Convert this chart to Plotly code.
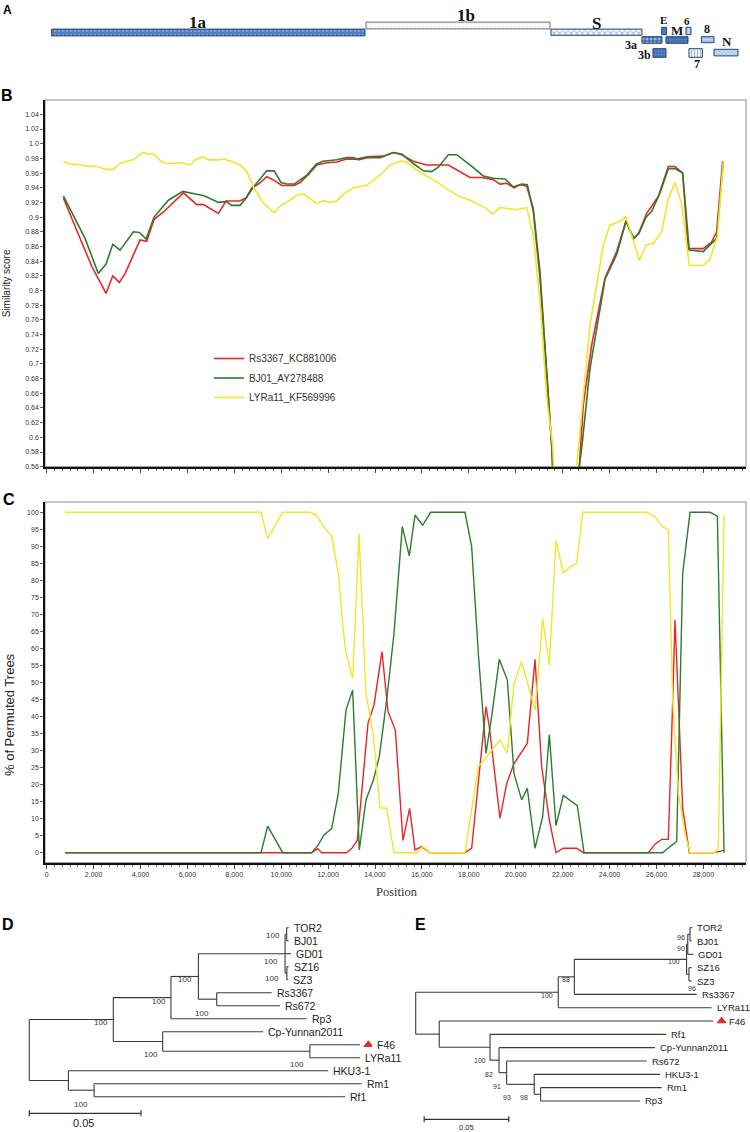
import plotly.graph_objects as go

W, H = 750, 1132

# ------------------------------------------------------------------ data
# Panel A : genome organisation (genome position, nt)
gene_names  = ["1a", "1b", "S", "3a", "3b", "E", "M", "6", "7", "8", "N"]
gene_starts = [213, 13615, 21503, 25384, 25852, 26224, 26407, 27260, 27388, 27917, 28454]
gene_ends   = [13572, 21461, 25384, 26237, 26407, 26429, 27345, 27473, 27959, 28454, 29477]

series_names = ["Rs3367_KC881006", "BJ01_AY278488", "LYRa11_KF569996"]

# Panel B : similarity plot
rs_pos_b = [711, 1920, 2531, 2816, 3100, 3342, 3982, 4266, 4579, 4977, 5830, 6086, 6399, 6683,
            7323, 7650, 8219, 8504, 8745, 9030, 9385, 9698, 10025, 10551, 10807, 11163, 11518,
            11945, 12371, 12798, 13225, 13651, 14353, 14779, 15137, 15632, 16203, 17125, 17551,
            18050, 18549, 19043, 19329, 19614, 19926, 20182, 20467, 20748, 21034, 21320, 21533,
            21800, 22390, 22880, 23239, 23806, 24305, 24702, 25013, 25227, 25585, 26080, 26506,
            26790, 27118, 27357, 27571, 27997, 28353, 28567, 28823]
rs_sim_b = [0.926, 0.833, 0.796, 0.820, 0.811, 0.823, 0.869, 0.867, 0.897, 0.907, 0.933, 0.926,
            0.917, 0.917, 0.905, 0.922, 0.922, 0.926, 0.940, 0.945, 0.955, 0.950, 0.943, 0.943,
            0.947, 0.958, 0.971, 0.974, 0.975, 0.979, 0.979, 0.982, 0.983, 0.988, 0.985, 0.976,
            0.971, 0.971, 0.963, 0.954, 0.954, 0.951, 0.945, 0.946, 0.940, 0.944, 0.942, 0.912,
            0.826, 0.689, 0.589, 0.40, 0.40, 0.644, 0.726, 0.817, 0.853, 0.895, 0.870, 0.877,
            0.905, 0.928, 0.969, 0.969, 0.960, 0.857, 0.857, 0.857, 0.866, 0.880, 0.976]

bj_pos_b = [711, 1635, 2204, 2531, 2816, 3129, 3697, 3953, 4238, 4579, 5190, 5802, 6399, 6712,
            7323, 7650, 7892, 8247, 8504, 8816, 9385, 9698, 9996, 10238, 10551, 11092, 11490,
            11775, 12371, 12798, 13083, 13296, 13651, 14220, 14779, 15137, 15632, 16061, 16416,
            16700, 17125, 17480, 18050, 18620, 19043, 19543, 19897, 20253, 20496, 20748, 21034,
            21320, 21533, 21800, 22070, 22826, 23168, 23806, 24305, 24702, 25041, 25270, 25555,
            25798, 26151, 26506, 26790, 27118, 27400, 27997, 28567, 28852]
bj_sim_b = [0.929, 0.871, 0.823, 0.836, 0.863, 0.855, 0.880, 0.879, 0.870, 0.900, 0.923, 0.935,
            0.931, 0.929, 0.920, 0.921, 0.916, 0.916, 0.926, 0.941, 0.963, 0.963, 0.947, 0.945,
            0.945, 0.957, 0.972, 0.976, 0.978, 0.981, 0.981, 0.978, 0.981, 0.981, 0.988, 0.986,
            0.973, 0.963, 0.962, 0.968, 0.985, 0.985, 0.971, 0.956, 0.953, 0.952, 0.941, 0.945,
            0.944, 0.908, 0.817, 0.680, 0.589, 0.40, 0.40, 0.589, 0.694, 0.815, 0.849, 0.894,
            0.871, 0.879, 0.900, 0.908, 0.933, 0.966, 0.966, 0.960, 0.855, 0.853, 0.871, 0.976]

ly_pos_b = [711, 995, 1280, 1635, 2133, 2531, 2844, 3129, 3413, 3697, 4096, 4337, 4551, 4906,
            5119, 5475, 5759, 6115, 6328, 6655, 6897, 7252, 7565, 7935, 8247, 8532, 8816, 9243,
            9698, 10025, 10380, 10736, 10978, 11490, 11831, 12115, 12371, 12656, 13055, 13623,
            13936, 14211, 14637, 15090, 15346, 15916, 16629, 17125, 17551, 18120, 18689, 19015,
            19329, 19642, 20040, 20467, 20748, 21034, 21320, 21575, 21850, 22120, 22667, 22880,
            23168, 23735, 24020, 24418, 24702, 24985, 25270, 25555, 25868, 26223, 26506, 26790,
            27075, 27400, 27997, 28282, 28595, 28852]
ly_sim_b = [0.976, 0.972, 0.972, 0.970, 0.969, 0.965, 0.965, 0.973, 0.976, 0.978, 0.988, 0.986,
            0.986, 0.975, 0.973, 0.973, 0.974, 0.971, 0.978, 0.982, 0.978, 0.978, 0.979, 0.975,
            0.971, 0.962, 0.941, 0.919, 0.906, 0.917, 0.923, 0.931, 0.931, 0.919, 0.922, 0.920,
            0.922, 0.931, 0.940, 0.943, 0.950, 0.957, 0.971, 0.976, 0.975, 0.961, 0.948, 0.937,
            0.929, 0.922, 0.913, 0.904, 0.913, 0.912, 0.910, 0.913, 0.876, 0.785, 0.654, 0.589,
            0.40, 0.40, 0.589, 0.662, 0.753, 0.862, 0.889, 0.894, 0.900, 0.871, 0.841, 0.862,
            0.864, 0.880, 0.925, 0.947, 0.918, 0.834, 0.834, 0.843, 0.873, 0.976]

# Panel C : bootscan (% of permuted trees)
rs_pos_c = [780, 11300, 11555, 11726, 12790, 13003, 13245, 13700, 13956, 14297, 14553, 14865,
            15192, 15476, 15704, 15988, 16344, 17836, 18121, 18732, 18873, 19329, 19614, 19926,
            20494, 20822, 21106, 21433, 21717, 22030, 22599, 22883, 25654, 25939, 26223, 26508,
            26650, 26792, 26935, 27120, 27404, 28428, 28883]
rs_pct_c = [0, 0, 1.2, 0, 0, 1.2, 3.6, 38.0, 43.4, 59.1, 41.5, 36.1, 3.6, 13.0, 0.8, 1.8, 0, 0,
            1.3, 42.9, 37.0, 10.1, 20.3, 26.2, 32.1, 56.8, 25.3, 9.6, 0, 1.3, 1.3, 0, 0, 2.5,
            3.9, 3.9, 34.6, 68.4, 44.4, 13.0, 0, 0, 0.7]

bj_pos_c = [780, 9138, 9423, 10063, 11300, 11581, 11825, 12152, 12434, 12762, 13046, 13330,
            13615, 13927, 14183, 14497, 14809, 15164, 15462, 15704, 16031, 16372, 17836, 18121,
            18405, 18732, 18973, 19300, 19642, 19926, 20253, 20494, 20822, 21149, 21433, 21717,
            22030, 22343, 22627, 22912, 26266, 26579, 26864, 27120, 27433, 28286, 28598, 28883]
bj_pct_c = [0, 0, 7.8, 0, 0, 2.3, 5.2, 7.1, 17.4, 41.9, 47.8, 0.8, 15.5, 21.3, 28.2, 44.8, 64.4,
            95.8, 87.2, 99.2, 96.2, 100, 100, 89.9, 58.6, 29.2, 40.0, 56.8, 50.7, 23.3, 15.5,
            18.9, 1.3, 10.6, 34.6, 8.0, 16.8, 15.3, 13.8, 0, 0, 1.8, 3.3, 82.1, 100, 100, 98.9, 0]

ly_pos_c = [780, 9138, 9423, 10063, 11227, 11513, 11726, 11910, 12152, 12434, 12647, 12762,
            13048, 13317, 13615, 13927, 14212, 14497, 14809, 15775, 16031, 16344, 17836, 18405,
            18760, 19329, 19642, 19926, 20253, 20608, 20822, 21149, 21433, 21717, 22030, 22314,
            22599, 22855, 25583, 25939, 26223, 26508, 26693, 26935, 27220, 27433, 28499, 28641,
            28883]
ly_pct_c = [100, 100, 92.3, 100, 100, 99.1, 96.7, 94.8, 93.1, 82.1, 65.4, 58.6, 51.2, 93.8, 46.8,
            34.6, 13.2, 13.0, 0, 0, 1.8, 0, 0, 25.3, 28.2, 33.1, 29.2, 49.7, 56.1, 46.8, 41.9,
            68.8, 55.1, 91.8, 82.1, 84.0, 85.0, 100, 100, 98.7, 96.0, 94.8, 44.8, 17.4, 5.6, 0,
            0, 1.8, 99.2]

sim_tick_values = [0.56, 0.58, 0.60, 0.62, 0.64, 0.66, 0.68, 0.70, 0.72, 0.74, 0.76, 0.78, 0.80,
                   0.82, 0.84, 0.86, 0.88, 0.90, 0.92, 0.94, 0.96, 0.98, 1.00, 1.02, 1.04]
pct_tick_values = [0, 5, 10, 15, 20, 25, 30, 35, 40, 45, 50, 55, 60, 65, 70, 75, 80, 85, 90, 95, 100]

# Panel D : whole-genome tree (node, parent, cumulative branch length)
d_nodes   = ["root", "n1", "n2", "n3", "sars", "tb", "TOR2", "BJ01", "GD01", "sz", "SZ16", "SZ3",
             "rs", "Rs3367", "Rs672", "Rp3", "cp", "Cp-Yunnan2011", "fl", "F46", "LYRa11",
             "n4", "HKU3-1", "rr", "Rm1", "Rf1"]
d_parents = [None, "root", "n1", "n2", "n3", "sars", "tb", "tb", "sars", "sars", "sz", "sz",
             "n3", "rs", "rs", "n2", "n1", "cp", "cp", "fl", "fl",
             "root", "n4", "n4", "rr", "rr"]
d_depths  = [0.0, 0.0376, 0.0634, 0.0757, 0.1145, 0.1152, 0.1161, 0.1161, 0.1172, 0.1153, 0.1161,
             0.1159, 0.0839, 0.1085, 0.1122, 0.1242, 0.0597, 0.1047, 0.1256, 0.1480, 0.1480,
             0.0175, 0.1338, 0.0290, 0.1488, 0.1413]
d_leaves  = ["TOR2", "BJ01", "GD01", "SZ16", "SZ3", "Rs3367", "Rs672", "Rp3", "Cp-Yunnan2011",
             "F46", "LYRa11", "HKU3-1", "Rm1", "Rf1"]
d_boot_nodes  = ["tb", "sars", "sz", "n1", "n2", "n3", "rs", "cp", "fl", "rr"]
d_boot_values = [100, 100, 100, 100, 100, 100, 100, 100, 100, 100]

# Panel E : S-gene tree
e_nodes   = ["root", "e100", "e88", "sars", "up", "tb", "TOR2", "BJ01", "GD01", "sz", "SZ16",
             "SZ3", "Rs3367", "LYRa11", "n193", "F46", "n345", "Rf1", "n372", "Cp-Yunnan2011",
             "n395", "Rs672", "n478", "HKU3-1", "n497", "Rm1", "Rp3"]
e_parents = [None, "root", "e100", "e88", "sars", "up", "tb", "tb", "up", "sars", "sz",
             "sz", "e88", "e100", "root", "n193", "n193", "n345", "n345", "n372",
             "n372", "n395", "n395", "n478", "n478", "n497", "n497"]
e_depths  = [0.0, 0.0842, 0.0937, 0.1600, 0.1607, 0.1620, 0.1634, 0.1630, 0.1640, 0.1614, 0.1630,
             0.1630, 0.1660, 0.1748, 0.0139, 0.1758, 0.0439, 0.1480, 0.0492, 0.1413,
             0.0537, 0.1364, 0.0700, 0.1443, 0.0738, 0.1453, 0.1325]
e_leaves  = ["TOR2", "BJ01", "GD01", "SZ16", "SZ3", "Rs3367", "LYRa11", "F46", "Rf1",
             "Cp-Yunnan2011", "Rs672", "HKU3-1", "Rm1", "Rp3"]
e_boot_nodes  = ["tb", "up", "sars", "sz", "e88", "e100", "n345", "n372", "n395", "n478", "n497"]
e_boot_values = [96, 90, 100, 96, 88, 100, 100, 82, 91, 93, 98]

marked_leaf = "F46"
scale_bar_length = 0.05

assert len(rs_pos_b) == len(rs_sim_b) and len(bj_pos_b) == len(bj_sim_b) and len(ly_pos_b) == len(ly_sim_b)
assert len(rs_pos_c) == len(rs_pct_c) and len(bj_pos_c) == len(bj_pct_c) and len(ly_pos_c) == len(ly_pct_c)
assert len(d_nodes) == len(d_parents) == len(d_depths)
assert len(e_nodes) == len(e_parents) == len(e_depths)

# ------------------------------------------------------------------ styles / layout helpers
COLORS = ["#e8262a", "#2e7b30", "#f2e52a"]
SANS = "Liberation Sans, Arial, sans-serif"
SERIF = "Liberation Serif, Times New Roman, serif"


def px(x):
    return x / W


def py(y):
    return 1 - y / H


X_DOM = [px(45), px(746)]
POS_RANGE = [-72, 29819]

fig = go.Figure()
annotations = []
shapes = []

# ------------------------------------------------------------------ Panel A
# track centre / bar thickness in pixels of the map strip, label offsets in px
gene_style = {
    "1a": dict(y=32.5, h=6.8, bg="#4b7dc2", fg="#a9c6ec", shape=".", size=4, sol=0.35, line="#23456f", dx=-10, dy=-10, fs=17),
    "1b": dict(y=25.5, h=6.8, bg="#ffffff", fg="#c6c6c6", shape="+", size=4, sol=0.25, line="#6f6f6f", dx=8, dy=-10.5, fs=17),
    "S":  dict(y=32.2, h=6.2, bg="#ffffff", fg="#4b7dc2", shape="x", size=4, sol=0.5, line="#23456f", dx=0, dy=-9, fs=17),
    "3a": dict(y=40.0, h=6.6, bg="#3d6db3", fg="#ffffff", shape=".", size=4, sol=0.45, line="#23456f", dx=-21, dy=4.5, fs=12),
    "3b": dict(y=53.0, h=8.6, bg="#3f6fb5", fg="#86a8da", shape=".", size=3, sol=0.3, line="#23456f", dx=-14.5, dy=2, fs=12),
    "E":  dict(y=31.0, h=7.4, bg="#4b7dc2", fg="#4b7dc2", shape="", size=3, sol=0.3, line="#23456f", dx=-1, dy=-11.5, fs=11),
    "M":  dict(y=40.0, h=6.6, bg="#3d6db3", fg="#86a8da", shape=".", size=3, sol=0.3, line="#23456f", dx=0, dy=-9.5, fs=13),
    "6":  dict(y=31.0, h=7.4, bg="#a9c5ea", fg="#ffffff", shape="|", size=3, sol=0.3, line="#23456f", dx=-1, dy=-10.5, fs=11),
    "7":  dict(y=53.0, h=8.6, bg="#ffffff", fg="#4b7dc2", shape="|", size=3, sol=0.45, line="#23456f", dx=1, dy=11.4, fs=12),
    "8":  dict(y=39.7, h=6.0, bg="#a9c3e4", fg="#e2ebf7", shape="-", size=3, sol=0.3, line="#23456f", dx=-1, dy=-11, fs=12),
    "N":  dict(y=52.6, h=6.6, bg="#c9dbf1", fg="#4b7dc2", shape="x", size=3, sol=0.3, line="#23456f", dx=1, dy=-11, fs=13),
}
for name, s0, e0 in zip(gene_names, gene_starts, gene_ends):
    st = gene_style[name]
    fig.add_trace(go.Bar(
        x=[e0 - s0], base=[s0], y=[st["y"]], width=[st["h"]], orientation="h",
        marker=dict(color=st["bg"], line=dict(color=st["line"], width=1),
                    pattern=dict(shape=st["shape"], bgcolor=st["bg"], fgcolor=st["fg"],
                                 size=st["size"], solidity=st["sol"])),
        xaxis="x", yaxis="y", showlegend=False, hoverinfo="skip"))
    annotations.append(dict(
        x=(s0 + e0) / 2, y=st["y"], xref="x", yref="y", text=name, showarrow=False,
        xanchor="center", yanchor="middle", xshift=st["dx"], yshift=-st["dy"],
        font=dict(family=SERIF, size=st["fs"], color="#111", weight="bold")))

# ------------------------------------------------------------------ Panel B
for nm, xs, ys, col in zip(series_names, [rs_pos_b, bj_pos_b, ly_pos_b],
                            [rs_sim_b, bj_sim_b, ly_sim_b], COLORS):
    fig.add_trace(go.Scatter(x=xs, y=ys, mode="lines", name=nm, legendgroup=nm,
                             line=dict(color=col, width=1.6), xaxis="x2", yaxis="y2"))

# ------------------------------------------------------------------ Panel C
for nm, xs, ys, col in zip(series_names, [rs_pos_c, bj_pos_c, ly_pos_c],
                            [rs_pct_c, bj_pct_c, ly_pct_c], COLORS):
    fig.add_trace(go.Scatter(x=xs, y=ys, mode="lines", name=nm, legendgroup=nm, showlegend=False,
                             line=dict(color=col, width=1.4), xaxis="x3", yaxis="y3"))


def sim_label(v):
    s = "%.2f" % v
    if s.endswith("0"):
        s = s[:-1]
    return s


# ------------------------------------------------------------------ Trees
def build_tree(nodes, parents, depths, leaves):
    depth = dict(zip(nodes, depths))
    children = {n: [] for n in nodes}
    root = None
    for n, p in zip(nodes, parents):
        if p is None:
            root = n
        else:
            children[p].append(n)
    ypos = {}

    def gety(n):
        if not children[n]:
            ypos[n] = leaves.index(n)
        else:
            cy = [gety(c) for c in children[n]]
            ypos[n] = (min(cy) + max(cy)) / 2
        return ypos[n]

    gety(root)
    xs, ys = [], []
    for n, p in zip(nodes, parents):
        if p is not None:
            xs += [depth[p], depth[n], None]
            ys += [ypos[n], ypos[n], None]
        if children[n]:
            cy = [ypos[c] for c in children[n]]
            xs += [depth[n], depth[n], None]
            ys += [min(cy), max(cy), None]
    return depth, children, ypos, xs, ys


tree_cfg = {
    "D": dict(data=(d_nodes, d_parents, d_depths, d_leaves), boots=(d_boot_nodes, d_boot_values),
              xa="x4", ya="y4", ppu=2234.0, root_px=29.3, x_dom=(10, 372), row0=927.7, rowh=13.0,
              leaf_fs=10.5, boot_fs=8, bar_start=0.0, bar_row_px=1113.3, bar_txt_px=1123.3,
              bar_fs=11, bar_txt_x=0.0242,
              # per-bootstrap placement: (reference, xanchor, dx px, dy px down)
              place={"tb": ("node", "right", -5, 1), "sars": ("node", "right", -5, 8),
                     "sz": ("node", "right", -6, 5), "n1": ("node", "right", -3, 3),
                     "n2": ("node", "right", -3, 3.5), "n3": ("node", "right", -4, 3.5),
                     "rs": ("low", "right", -6, 7.5), "cp": ("low", "right", -3, 3.5),
                     "fl": ("low", "right", -4, 6.5), "rr": ("low", "right", -4, 7.5)}),
    "E": dict(data=(e_nodes, e_parents, e_depths, e_leaves), boots=(e_boot_nodes, e_boot_values),
              xa="x5", ya="y5", ppu=1693.0, root_px=415.7, x_dom=(380, 745), row0=927.7, rowh=13.33,
              leaf_fs=9.5, boot_fs=7, bar_start=0.005, bar_row_px=1119.3, bar_txt_px=1127.0,
              bar_fs=7.5, bar_txt_x=0.0301,
              place={"tb": ("node", "right", -3, 3), "up": ("node", "right", -1, 4.5),
                     "sars": ("node", "right", -5, 2.5), "sz": ("node", "center", 3, 14.5),
                     "e88": ("node", "right", -2.5, 3), "e100": ("node", "right", -3, 3.5),
                     "n345": ("low", "right", -2.5, 0.5), "n372": ("low", "right", -4, 1.5),
                     "n395": ("low", "right", -3.5, 2.5), "n478": ("low", "right", -21, 3.5),
                     "n497": ("node", "right", -10.5, 3.5)}),
}

layout_axes = {}
for key, cfg in tree_cfg.items():
    nodes, parents, depths, leaves = cfg["data"]
    depth, children, ypos, xs, ys = build_tree(nodes, parents, depths, leaves)
    ppu, rowh = cfg["ppu"], cfg["rowh"]
    xa, ya = cfg["xa"], cfg["ya"]
    fig.add_trace(go.Scatter(x=xs, y=ys, mode="lines", line=dict(color="#3a3a3a", width=1.1),
                             xaxis=xa, yaxis=ya, showlegend=False, hoverinfo="skip"))
    # leaf labels
    for lf in leaves:
        shift = 3
        if lf == marked_leaf:
            shift = 15 if key == "D" else 14
            fig.add_trace(go.Scatter(x=[depth[lf] + 8.3 / ppu], y=[ypos[lf]], mode="markers",
                                     marker=dict(symbol="triangle-up", size=9, color="#e32b26"),
                                     xaxis=xa, yaxis=ya, showlegend=False, hoverinfo="skip"))
        annotations.append(dict(x=depth[lf], y=ypos[lf], xref=xa, yref=ya, text=lf,
                                showarrow=False, xanchor="left", yanchor="middle", xshift=shift,
                                font=dict(family=SANS, size=cfg["leaf_fs"], color="#222")))
    # bootstrap values
    for bn, bv in zip(*cfg["boots"]):
        ref, xanchor, dx, dy = cfg["place"][bn]
        yy = ypos[bn] if ref == "node" else max(ypos[c] for c in children[bn])
        annotations.append(dict(x=depth[bn], y=yy, xref=xa, yref=ya, text=str(bv),
                                showarrow=False, xanchor=xanchor, yanchor="middle",
                                xshift=dx, yshift=-dy,
                                font=dict(family=SANS, size=cfg["boot_fs"], color="#333")))
    # scale bar
    bar_row = (cfg["bar_row_px"] - cfg["row0"]) / rowh
    tick = 3.0 / rowh
    b0 = cfg["bar_start"]
    b1 = b0 + scale_bar_length
    fig.add_trace(go.Scatter(x=[b0, b1, None, b0, b0, None, b1, b1],
                             y=[bar_row, bar_row, None, bar_row - tick, bar_row + tick, None,
                                bar_row - tick, bar_row + tick],
                             mode="lines", line=dict(color="#333", width=1.2),
                             xaxis=xa, yaxis=ya, showlegend=False, hoverinfo="skip"))
    annotations.append(dict(x=cfg["bar_txt_x"], y=(cfg["bar_txt_px"] - cfg["row0"]) / rowh,
                            xref=xa, yref=ya, text=str(scale_bar_length), showarrow=False,
                            xanchor="center", yanchor="middle",
                            font=dict(family=SANS, size=cfg["bar_fs"], color="#222")))
    x0p, x1p = cfg["x_dom"]
    layout_axes["xaxis" + xa[1:]] = dict(domain=[px(x0p), px(x1p)],
                                         range=[(x0p - cfg["root_px"]) / ppu, (x1p - cfg["root_px"]) / ppu],
                                         visible=False, anchor=ya, automargin=False)
    top_px, bot_px = 915, 1130
    layout_axes["yaxis" + ya[1:]] = dict(domain=[py(bot_px), py(top_px)],
                                         range=[(bot_px - cfg["row0"]) / rowh, (top_px - cfg["row0"]) / rowh],
                                         visible=False, anchor=xa, automargin=False)

# ------------------------------------------------------------------ text labels (paper, centred)
for letter, x, y, fs in [("A", 7.4, 10.5, 12), ("B", 7.2, 95.8, 16), ("C", 8.8, 499.4, 16),
                         ("D", 8.3, 924.3, 16), ("E", 420.8, 924, 16)]:
    annotations.append(dict(x=px(x), y=py(y), xref="paper", yref="paper", text=letter,
                            xanchor="center", yanchor="middle", showarrow=False,
                            font=dict(family=SANS, size=fs, color="#000", weight="bold")))

annotations.append(dict(x=px(6.3), y=py(283), xref="paper", yref="paper", text="Similarity score",
                        xanchor="center", yanchor="middle", textangle=-90, showarrow=False,
                        font=dict(family=SANS, size=10, color="#222")))
annotations.append(dict(x=px(9), y=py(715), xref="paper", yref="paper", text="% of Permuted Trees",
                        xanchor="center", yanchor="middle", textangle=-90, showarrow=False,
                        font=dict(family=SANS, size=13, color="#222")))
annotations.append(dict(x=px(397), y=py(892), xref="paper", yref="paper",
                        xanchor="center", yanchor="middle",
                        text="Position", showarrow=False, borderpad=0,
                        font=dict(family=SERIF, size=12.5, color="#333")))

for xr, yr in [("x2", "y2"), ("x3", "y3")]:
    shapes.append(dict(type="rect", xref=xr + " domain", yref=yr + " domain", x0=0, x1=1, y0=0, y1=1,
                       line=dict(color="#8a8a8a", width=1), layer="below"))

pos_axis = dict(domain=X_DOM, range=POS_RANGE, showgrid=False, zeroline=False, automargin=False,
                showline=True, linecolor="#111", linewidth=1.6,
                ticks="outside", ticklen=4, tickcolor="#444", tick0=0, dtick=2000,
                minor=dict(ticks="outside", ticklen=2, tickcolor="#777", tick0=0, dtick=2000 / 6),
                tickfont=dict(family=SANS, size=7, color="#333"))

fig.update_layout(
    width=W, height=H, margin=dict(l=0, r=0, t=0, b=0, pad=0, autoexpand=False),
    paper_bgcolor="white", plot_bgcolor="white", barmode="overlay",
    xaxis=dict(domain=X_DOM, range=POS_RANGE, visible=False, anchor="y", automargin=False),
    yaxis=dict(domain=[py(90), py(5)], range=[90, 5], visible=False, anchor="x", automargin=False),
    xaxis2=dict(pos_axis, anchor="y2", showticklabels=False),
    yaxis2=dict(domain=[py(466.7), py(100)], range=[0.56, 1.0595], anchor="x2", automargin=False,
                showgrid=False, zeroline=False, showline=True, linecolor="#111", linewidth=1.6,
                tickvals=sim_tick_values, ticktext=[sim_label(v) for v in sim_tick_values],
                ticks="outside", ticklen=3, tickcolor="#666",
                tickfont=dict(family=SANS, size=7, color="#333")),
    xaxis3=dict(pos_axis, anchor="y3", tickformat=",d"),
    yaxis3=dict(domain=[py(862.7), py(502)], range=[-2.94, 103.03], anchor="x3", automargin=False,
                showgrid=False, zeroline=False, showline=True, linecolor="#111", linewidth=1.6,
                tickvals=pct_tick_values, ticks="outside", ticklen=3, tickcolor="#666",
                tickfont=dict(family=SANS, size=7, color="#333")),
    legend=dict(x=px(209), y=py(344), xanchor="left", yanchor="top", bgcolor="rgba(0,0,0,0)",
                font=dict(family=SANS, size=10, color="#333"), tracegroupgap=0.5),
    annotations=annotations, shapes=shapes,
    **layout_axes,
)

# the page's default 8px body margin would shift the 750x1132 figure; remove it
fig.write_html("out.html", config={"displayModeBar": False},
               post_script="document.body.style.margin='0px';document.body.style.padding='0px';")
